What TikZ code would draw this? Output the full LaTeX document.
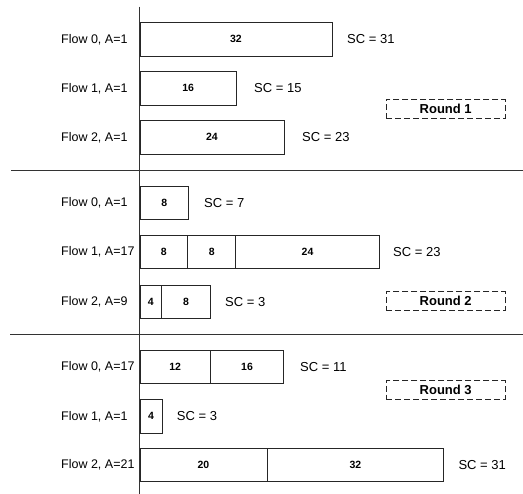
\documentclass[tikz,border=0pt]{standalone}
\usepackage{fontspec}
\setmainfont{Liberation Sans}
\begin{document}
\begin{tikzpicture}[x=1pt,y=-1pt,
  flowlabel/.style={anchor=west,inner sep=0pt,font=\fontsize{12.5}{14}\selectfont},
  sclabel/.style={anchor=west,inner sep=0pt,font=\fontsize{13}{15}\selectfont},
  seg/.style={draw=black!85,line width=0.8pt,rectangle,inner sep=0pt,minimum height=33.3pt,anchor=west,font=\bfseries\fontsize{10.5}{12}\selectfont},
  roundbox/.style={draw=black!85,line width=0.9pt,dash pattern=on 6pt off 3pt,rectangle,inner sep=0pt,minimum width=118.5pt,minimum height=19pt,font=\bfseries\fontsize{13}{15}\selectfont},
  rule/.style={draw=black!80,line width=0.8pt}]
\useasboundingbox (0,0) rectangle (523,494);
% axis and separators
\coordinate (axT) at (139.5,6.7);
\coordinate (axB) at (139.5,494);
\coordinate (s1L) at (11,170);
\coordinate (s1R) at (523,170);
\coordinate (s2L) at (10,334.3);
\coordinate (s2R) at (523,334.3);
\draw[rule] (axT) -- (axB);
\draw[rule] (s1L) -- (s1R);
\draw[rule] (s2L) -- (s2R);
% Round 1
\node[flowlabel] (l10) at (61,39.3) {Flow 0, A=1};
\node[flowlabel] (l11) at (61,88.3) {Flow 1, A=1};
\node[flowlabel] (l12) at (61,137.3) {Flow 2, A=1};
\node[seg,minimum width=192.2pt] (b10a) at (139.5,39.3) {32};
\node[seg,minimum width=96.5pt] (b11a) at (139.5,88.3) {16};
\node[seg,minimum width=144.2pt] (b12a) at (139.5,137.3) {24};
\node[sclabel] (c10) at (347,39.3) {SC = 31};
\node[sclabel] (c11) at (254,88.3) {SC = 15};
\node[sclabel] (c12) at (302,137.3) {SC = 23};
\node[roundbox] (r1) at (445.7,108.8) {Round 1};
% Round 2
\node[flowlabel] (l20) at (61,203) {Flow 0, A=1};
\node[flowlabel] (l21) at (61,251.7) {Flow 1, A=17};
\node[flowlabel] (l22) at (61,301.7) {Flow 2, A=9};
\node[seg,minimum width=48.8pt] (b20a) at (139.5,203) {8};
\node[seg,minimum width=47.8pt] (b21a) at (139.5,251.7) {8};
\node[seg,minimum width=48pt] (b21b) at (187.3,251.7) {8};
\node[seg,minimum width=143.7pt] (b21c) at (235.3,251.7) {24};
\node[seg,minimum width=21.8pt] (b22a) at (139.5,301.7) {4};
\node[seg,minimum width=48.7pt] (b22b) at (161.3,301.7) {8};
\node[sclabel] (c20) at (204,203) {SC = 7};
\node[sclabel] (c21) at (393,251.7) {SC = 23};
\node[sclabel] (c22) at (225,301.7) {SC = 3};
\node[roundbox] (r2) at (445.7,301.3) {Round 2};
% Round 3
\node[flowlabel] (l30) at (61,367) {Flow 0, A=17};
\node[flowlabel] (l31) at (61,416.3) {Flow 1, A=1};
\node[flowlabel] (l32) at (61,465) {Flow 2, A=21};
\node[seg,minimum width=70.5pt] (b30a) at (139.5,367) {12};
\node[seg,minimum width=73.3pt] (b30b) at (210,367) {16};
\node[seg,minimum width=22.2pt] (b31a) at (139.5,416.3) {4};
\node[seg,minimum width=127.2pt] (b32a) at (139.5,465) {20};
\node[seg,minimum width=176.6pt] (b32b) at (266.7,465) {32};
\node[sclabel] (c30) at (300,367) {SC = 11};
\node[sclabel] (c31) at (176.7,416.3) {SC = 3};
\node[sclabel] (c32) at (458.3,465) {SC = 31};
\node[roundbox] (r3) at (445.7,390.2) {Round 3};
\end{tikzpicture}
\end{document}
